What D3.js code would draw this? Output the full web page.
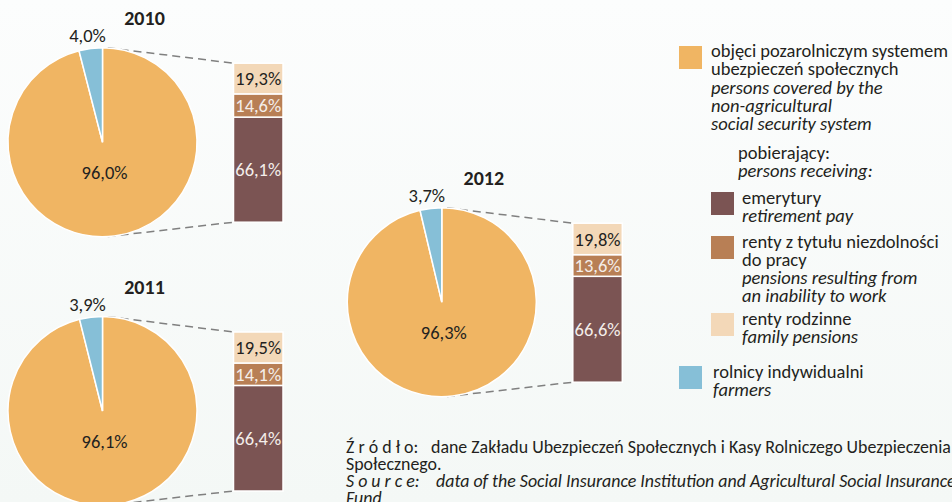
<!DOCTYPE html>
<html>
<head>
<meta charset="utf-8">
<script src="https://cdn.jsdelivr.net/npm/d3@7"></script>
<style>
  html, body { margin: 0; padding: 0; }
  body { width: 952px; height: 502px; overflow: hidden; }
  svg { display: block; font-family: Carlito, Calibri, Lato, sans-serif; }
</style>
</head>
<body>
<div id="chart"></div>
<script>
// values (percent)
var years = ["2010", "2011", "2012"];
var nonAgricultural = [96.0, 96.1, 96.3];
var farmers = [4.0, 3.9, 3.7];
var retirementPay = [66.1, 66.4, 66.6];
var inabilityPensions = [14.6, 14.1, 13.6];
var familyPensions = [19.3, 19.5, 19.8];

var legendPl = ["objęci pozarolniczym systemem", "ubezpieczeń społecznych"];
var legendEn = ["persons covered by the", "non-agricultural", "social security system"];

var fmt = function (v) { return d3.format(".1f")(v).replace(".", ",") + "%"; };

var colors = {
    nonAgri: "#f0b563",
    farmers: "#86bfd7",
    retire: "#7b5453",
    inability: "#b87f55",
    family: "#f3d8b8"
};

var W = 952, H = 502;
var svg = d3.select("#chart").append("svg")
    .attr("width", W)
    .attr("height", H);

var grad = svg.append("defs").append("linearGradient")
    .attr("id", "bg").attr("x1", 0).attr("y1", 0).attr("x2", 0).attr("y2", 1);
grad.append("stop").attr("offset", "0%").attr("stop-color", "#fcfdfd");
grad.append("stop").attr("offset", "100%").attr("stop-color", "#f4f8f6");
svg.append("rect").attr("width", W).attr("height", H).attr("fill", "url(#bg)");

// where each pie sits
var centers = [[102.5, 142.2], [102.5, 411], [441.8, 302.2]];
var radius = 94.5;
var barH = 159, barW = 49.5;
var pctSize = 18.5;

var pie = d3.pie().sort(null).value(function (d) { return d.v; });
var arc = d3.arc().innerRadius(0).outerRadius(radius);
var barY = d3.scaleLinear().domain([0, 100]).range([0, barH]);

years.forEach(function (year, i) {
    var cx = centers[i][0], cy = centers[i][1];
    var g = svg.append("g").attr("transform", "translate(" + cx + "," + cy + ")");

    // connector lines
    var pt = function (a) { return [radius * Math.sin(a), -radius * Math.cos(a)]; };
    var bx = 131, by = -79;
    var p1 = pt(0.055), p2 = pt(Math.PI - 0.055);
    g.append("line").attr("x1", p1[0]).attr("y1", p1[1]).attr("x2", bx).attr("y2", by)
        .attr("stroke", "#808080").attr("stroke-width", 1.5).attr("stroke-dasharray", "8,5");
    g.append("line").attr("x1", p2[0]).attr("y1", p2[1]).attr("x2", bx).attr("y2", by + barH)
        .attr("stroke", "#808080").attr("stroke-width", 1.5).attr("stroke-dasharray", "8,5");

    var slices = pie([{k: "nonAgri", v: nonAgricultural[i]}, {k: "farmers", v: farmers[i]}]);
    g.selectAll("path.slice").data(slices).enter().append("path")
        .attr("class", "slice")
        .attr("d", arc)
        .attr("fill", function (d) { return colors[d.data.k]; })
        .attr("stroke", "#ffffff")
        .attr("stroke-width", 1.5);

    g.append("text").attr("x", 2).attr("y", 37)
        .attr("text-anchor", "middle").attr("font-size", pctSize).attr("fill", "#231f20")
        .text(fmt(nonAgricultural[i]));
    g.append("text").attr("x", -15).attr("y", -100.5)
        .attr("text-anchor", "middle").attr("font-size", pctSize).attr("fill", "#231f20")
        .text(fmt(farmers[i]));

    g.append("text").attr("x", 42).attr("y", -117)
        .attr("text-anchor", "middle").attr("font-size", 20).attr("font-weight", "bold")
        .attr("fill", "#231f20")
        .text(year);

    // stacked bar of the orange part
    var segs = [
        {k: "retire", v: retirementPay[i], c: "#f4eeea"},
        {k: "inability", v: inabilityPensions[i], c: "#f4eeea"},
        {k: "family", v: familyPensions[i], c: "#231f20"}
    ];
    var acc = 0;
    segs.forEach(function (s) { s.y0 = acc; acc += s.v; s.y1 = acc; });
    var bottom = by + barH;
    g.selectAll("rect.seg").data(segs).enter().append("rect")
        .attr("class", "seg")
        .attr("x", bx)
        .attr("y", function (d) { return bottom - barY(d.y1); })
        .attr("width", barW)
        .attr("height", function (d) { return barY(d.v); })
        .attr("fill", function (d) { return colors[d.k]; })
        .attr("stroke", "#ffffff")
        .attr("stroke-width", 1.5);
    g.selectAll("text.seg").data(segs).enter().append("text")
        .attr("class", "seg")
        .attr("x", bx + barW / 2)
        .attr("y", function (d) { return bottom - barY((d.y0 + d.y1) / 2); })
        .attr("dy", "0.36em")
        .attr("text-anchor", "middle").attr("font-size", pctSize)
        .attr("fill", function (d) { return d.c; })
        .text(function (d) { return fmt(d.v); });
});

// legend
var leg = svg.append("g").attr("font-size", 18.5).attr("fill", "#231f20");
function legendBlock(x, y, sx, sy, color, lines) {
    if (color) {
        leg.append("rect").attr("x", sx).attr("y", sy).attr("width", 23).attr("height", 23)
            .attr("fill", color);
    }
    lines.forEach(function (l, j) {
        leg.append("text").attr("x", x).attr("y", y + j * 18.3)
            .attr("font-style", l.it ? "italic" : "normal")
            .text(l.t);
    });
}
var asLines = function (pl, en) {
    return pl.map(function (t) { return {t: t, it: false}; })
        .concat(en.map(function (t) { return {t: t, it: true}; }));
};
legendBlock(711, 57, 679, 46, colors.nonAgri, asLines(legendPl, legendEn));
legendBlock(738, 158.5, 0, 0, null, asLines(["pobierający:"], ["persons receiving:"]));
legendBlock(742, 204, 711, 192, colors.retire, asLines(["emerytury"], ["retirement pay"]));
legendBlock(742, 247.5, 711, 236, colors.inability,
    asLines(["renty z tytułu niezdolności", "do pracy"], ["pensions resulting from", "an inability to work"]));
legendBlock(742, 324.5, 711, 313, colors.family, asLines(["renty rodzinne"], ["family pensions"]));
legendBlock(713, 378, 679, 366, colors.farmers, asLines(["rolnicy indywidualni"], ["farmers"]));

// source note
var note = svg.append("g").attr("font-size", 17.9).attr("fill", "#231f20");
note.append("text").attr("x", 346).attr("y", 452.5).text("Ź r ó d ł o:");
note.append("text").attr("x", 431).attr("y", 452.5)
    .text("dane Zakładu Ubezpieczeń Społecznych i Kasy Rolniczego Ubezpieczenia");
note.append("text").attr("x", 346).attr("y", 469.5).text("Społecznego.");
note.append("text").attr("x", 346).attr("y", 486.5).attr("font-style", "italic").text("S o u r c e:");
note.append("text").attr("x", 436).attr("y", 486.5).attr("font-style", "italic")
    .text("data of the Social Insurance Institution and Agricultural Social Insurance");
note.append("text").attr("x", 346).attr("y", 503.5).attr("font-style", "italic").text("Fund");
</script>
</body>
</html>
